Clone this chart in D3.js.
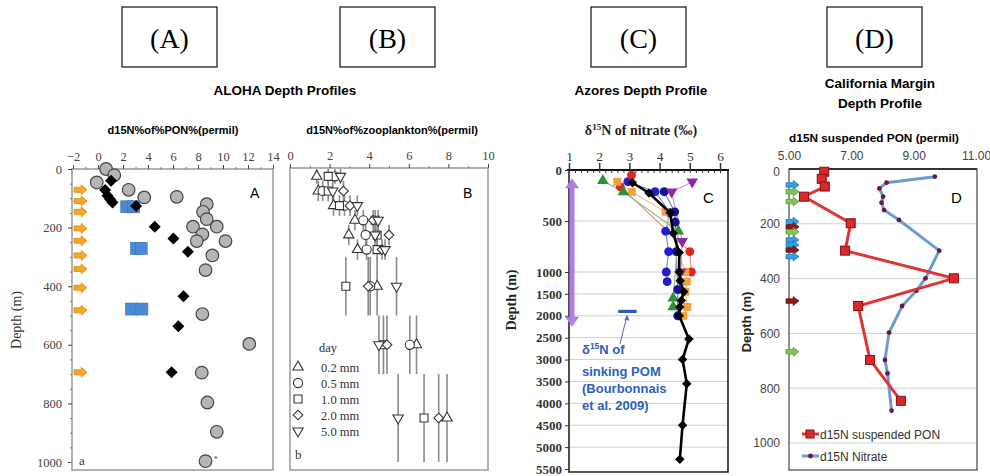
<!DOCTYPE html>
<html>
<head>
<meta charset="utf-8">
<script src="https://cdn.jsdelivr.net/npm/d3@7"></script>
<style>
body{margin:0;background:#fff}
svg{display:block}
</style>
</head>
<body>
<div id="chart"></div>
<script>
// panel A : ALOHA d15N of PON
var aPonDepth=[0,21,46,71,97,95,120,146,171,197,197,223,246,246,295,345,495,597,695,797,897,997]
var aPonVal=[0.65,1.3,-0.1,2.45,3.7,6.3,8.7,8.4,8.7,7.6,9.5,8.35,7.9,10.2,9.15,8.6,8.35,12.1,8.3,8.75,9.5,8.6]
var aDiaDepth=[40,72,91,103,114,126,197,237,282,434,537,694]
var aDiaVal=[1.05,0.57,0.76,0.97,1.16,3.05,4.54,6.03,7.19,6.84,6.43,5.89]
var aSqDepth=[129,129,271,271,478,478]
var aSqVal=[2.3,2.85,3.08,3.46,2.68,3.51]
var aArrowDepth=[71,109,146,203,245,295,341,405,482,694]
var aTicksX=[-2,0,2,4,6,8,10,12,14]
var depthTicksA=[0,200,400,600,800,1000]

// panel B : zooplankton by size class
var bDepth=[25,75,125,175,225,275,400,600,850]
var bErr=[25,35,35,35,35,35,100,100,150]
var bSizes=["0.2 mm","0.5 mm","1.0 mm","2.0 mm","5.0 mm"]
var b02=[1.35,1.43,2.2,3.28,2.97,3.41,4.4,6.39,7.93]
var b05=[2.27,1.65,2.75,3.7,3.82,3.87,4.05,6.05,null]
var b10=[1.93,1.93,2.5,4.3,4.4,4.4,2.82,4.72,6.77]
var b20=[null,2.7,3.03,4.2,5.0,4.65,3.95,4.9,7.51]
var b50=[2.55,2.16,3.4,4.45,4.3,4.8,5.38,4.49,5.46]
var bTicksX=[0,2,4,6,8,10]

// panel C : Azores nitrate
var cTicksX=[1,2,3,4,5,6]
var cTicksY=[0,500,1000,1500,2000,2500,3000,3500,4000,4500,5000,5500]
var cMeanDepth=[125,225,420,620,810,1000,1200,1450,1650,1800,2000,2530,3000,3550,4500,5280]
var cMeanVal=[3.1,3.65,4.35,4.45,4.65,4.65,4.68,4.8,4.72,4.67,4.65,4.97,4.76,4.9,4.76,4.67]
var cBlueDepth=[115,213,420,600,800,1000,1220]
var cBlueVal=[2.95,3.85,4.35,4.2,4.3,4.22,4.25]
var cNavyDepth=[213,410,510,800,1400,2000]
var cNavyVal=[4.15,4.5,4.52,4.55,4.6,4.6]
var cRedDepth=[50,165,800,1000]
var cRedVal=[3.07,2.7,5.0,5.05]
var cOrangeDepth=[115,215,410,1000,1220,1450,1800,2000]
var cOrangeVal=[2.6,3.08,4.2,4.85,4.9,4.85,4.92,4.78]
var cGreenDepth=[105,215,600,1600,1800]
var cGreenVal=[2.12,2.8,4.62,4.45,4.45]
var cPurpleDepth=[115,215,700,1000]
var cPurpleVal=[5.08,4.4,4.75,4.7]
var cPomDepth=1900
var cPomRange=[2.63,3.24]
var cMixRange=[80,2250]

// panel D : California margin
var dTicksX=[5,7,9,11]
var dTicksY=[0,200,400,600,800,1000]
var dPonDepth=[10,36,64,101,198,298,399,500,697,846]
var dPonVal=[6.13,6.05,6.15,5.48,6.98,6.8,10.29,7.22,7.6,8.59]
var dNitDepth=[28,50,71,101,123,150,186,298,399,444,500,597,697,746,882]
var dNitVal=[9.68,8.13,7.9,8.02,7.97,8.05,8.53,9.82,9.38,9.09,8.63,8.21,8.08,8.16,8.29]
var dArrowDepth=[58,83,119,192,211,229,259,277,296,320,482,667]
var dArrowKind=["blue","green","green","blue","red","green","blue","blue","red","blue","red","green"]

var SERIF='"Liberation Serif","Times New Roman",serif'
var SANS='"Liberation Sans",Arial,sans-serif'

var svg=d3.select("#chart").append("svg")
	.attr("width",990)
	.attr("height",476)

function zip(d,v){
	return d.map(function(x,i){return {d:x,v:v[i]}}).filter(function(p){return p.v!=null})
}
function blockArrow(x,y,w,h){
	var sh=h*0.5, hx=x+w*0.55
	return "M"+x+","+(y-sh/2)+"L"+hx+","+(y-sh/2)+"L"+hx+","+(y-h/2)+"L"+(x+w)+","+y+
		"L"+hx+","+(y+h/2)+"L"+hx+","+(y+sh/2)+"L"+x+","+(y+sh/2)+"Z"
}
function styleAxis(g,font,size,color,weight){
	g.select(".domain").remove()
	g.selectAll("text").style("font-family",font).style("font-size",size+"px")
		.attr("fill",color).style("font-weight",weight||"normal")
	g.selectAll("line").attr("stroke",color)
}
var fmt=d3.format("d")

// ---------- header boxes ----------
var boxes=[{l:"(A)",x:122},{l:"(B)",x:340},{l:"(C)",x:591},{l:"(D)",x:827}]
var hb=svg.selectAll(".hbox").data(boxes).enter().append("g")
hb.append("rect").attr("x",d=>d.x).attr("y",7).attr("width",95).attr("height",60)
	.attr("fill","none").attr("stroke","#111").attr("stroke-width",1.2)
hb.append("text").text(d=>d.l).attr("x",d=>d.x+47.5).attr("y",48)
	.attr("text-anchor","middle").style("font-family",SERIF).style("font-size","28px")

// ---------- panel A ----------
var xA=d3.scaleLinear().domain([-2,14]).range([73,273])
var yA=d3.scaleLinear().domain([0,1000]).range([169,462])

svg.append("text").text("ALOHA Depth Profiles").attr("x",285).attr("y",95)
	.attr("text-anchor","middle").style("font-family",SANS).style("font-size","13.5px").style("font-weight","bold")
svg.append("text").text("d15N%of%PON%(permil)").attr("x",173).attr("y",134)
	.attr("text-anchor","middle").style("font-family",SANS).style("font-size","11px").style("font-weight","bold")

svg.append("rect").attr("x",72).attr("y",169).attr("width",201).attr("height",301)
	.attr("fill","none").attr("stroke","#999").attr("stroke-width",1.5)
var gax=svg.append("g").attr("transform","translate(0,169)")
	.call(d3.axisTop(xA).tickValues(aTicksX).tickSize(4).tickPadding(4).tickFormat(fmt))
styleAxis(gax,SERIF,12.5,"#444")
var gaxm=svg.append("g").attr("transform","translate(0,169)")
	.call(d3.axisTop(xA).tickValues(d3.range(-1,14,2)).tickSize(2).tickFormat(""))
styleAxis(gaxm,SERIF,12,"#777")
var gay=svg.append("g").attr("transform","translate(72,0)")
	.call(d3.axisLeft(yA).tickValues(depthTicksA).tickSize(4).tickPadding(6).tickFormat(fmt))
styleAxis(gay,SERIF,12.5,"#444")
var gaym=svg.append("g").attr("transform","translate(72,0)")
	.call(d3.axisLeft(yA).tickValues(d3.range(50,1001,50)).tickSize(2).tickFormat(""))
styleAxis(gaym,SERIF,12,"#777")
svg.append("text").text("Depth (m)").attr("transform","translate(21,320) rotate(-90)")
	.attr("text-anchor","middle").style("font-family",SERIF).style("font-size","14px").attr("fill","#333")

svg.selectAll(".aarrow").data(aArrowDepth).enter().append("path")
	.attr("d",d=>blockArrow(74,yA(d),13,10))
	.attr("fill","#f7a823").attr("stroke","#d98a10").attr("stroke-width",0.8)

svg.selectAll(".apon").data(zip(aPonDepth,aPonVal)).enter().append("circle")
	.attr("cx",d=>xA(d.v)).attr("cy",d=>yA(d.d)).attr("r",6.3)
	.attr("fill","#b5b5b5").attr("stroke","#444").attr("stroke-width",1.2)
svg.selectAll(".asq").data(zip(aSqDepth,aSqVal)).enter().append("rect")
	.attr("x",d=>xA(d.v)-6).attr("y",d=>yA(d.d)-6).attr("width",12).attr("height",12)
	.attr("fill","#4a8ad4").attr("stroke","#3a70b0").attr("stroke-width",0.6)
svg.selectAll(".adia").data(zip(aDiaDepth,aDiaVal)).enter().append("path")
	.attr("d",d3.symbol().type(d3.symbolSquare).size(72)())
	.attr("transform",d=>"translate("+xA(d.v)+","+yA(d.d)+") rotate(45)")
	.attr("fill","#000")
svg.append("text").text("*").attr("x",xA(8.6)+8).attr("y",yA(997)+1)
	.style("font-family",SERIF).style("font-size","9px").attr("fill","#555")
svg.append("text").text("A").attr("x",250).attr("y",198)
	.style("font-family",SANS).style("font-size","14px")
svg.append("text").text("a").attr("x",79).attr("y",465)
	.style("font-family",SERIF).style("font-size","13px").attr("fill","#333")

// ---------- panel B ----------
var xB=d3.scaleLinear().domain([0,10]).range([290,488])
var yB=yA
svg.append("text").text("d15N%of%zooplankton%(permil)").attr("x",392).attr("y",134)
	.attr("text-anchor","middle").style("font-family",SANS).style("font-size","11px").style("font-weight","bold")
svg.append("rect").attr("x",290).attr("y",168).attr("width",198).attr("height",302)
	.attr("fill","none").attr("stroke","#999").attr("stroke-width",1.5)
var gbx=svg.append("g").attr("transform","translate(0,168)")
	.call(d3.axisTop(xB).tickValues(bTicksX).tickSize(4).tickPadding(4).tickFormat(fmt))
styleAxis(gbx,SERIF,12.5,"#444")
var gbxm=svg.append("g").attr("transform","translate(0,168)")
	.call(d3.axisTop(xB).tickValues(d3.range(1,10,2)).tickSize(2).tickFormat(""))
styleAxis(gbxm,SERIF,12,"#777")

var bSymbols=[
	{type:d3.symbolTriangle,size:46,rot:0,vals:b02},
	{type:d3.symbolCircle,size:66,rot:0,vals:b05},
	{type:d3.symbolSquare,size:64,rot:0,vals:b10},
	{type:d3.symbolSquare,size:46,rot:45,vals:b20},
	{type:d3.symbolTriangle,size:46,rot:180,vals:b50}
]
var bPts=[]
bSymbols.forEach(function(s){
	s.vals.forEach(function(v,i){
		if(v!=null) bPts.push({v:v,d:bDepth[i],e:bErr[i],s:s})
	})
})
svg.selectAll(".berr").data(bPts).enter().append("line")
	.attr("x1",d=>xB(d.v)).attr("x2",d=>xB(d.v))
	.attr("y1",d=>yB(d.d-d.e)).attr("y2",d=>yB(d.d+d.e))
	.attr("stroke","#8a8a8a").attr("stroke-width",1.6)
svg.selectAll(".bpt").data(bPts).enter().append("path")
	.attr("d",d=>d3.symbol().type(d.s.type).size(d.s.size)())
	.attr("transform",d=>"translate("+xB(d.v)+","+yB(d.d)+") rotate("+d.s.rot+")")
	.attr("fill","#fff").attr("stroke","#333").attr("stroke-width",1.1)

svg.append("text").text("B").attr("x",463).attr("y",198)
	.style("font-family",SANS).style("font-size","14px")
svg.append("text").text("day").attr("x",319).attr("y",352)
	.style("font-family",SERIF).style("font-size","12.5px").attr("fill","#333")
var bleg=svg.selectAll(".bleg").data(bSymbols).enter().append("g")
	.attr("transform",(d,i)=>"translate(298,"+(367+i*16)+")")
bleg.append("path").attr("d",d=>d3.symbol().type(d.type).size(d.size)())
	.attr("transform",d=>"rotate("+d.rot+")")
	.attr("fill","#fff").attr("stroke","#333").attr("stroke-width",1.1)
bleg.append("text").text((d,i)=>bSizes[i]).attr("x",23).attr("y",4.5)
	.style("font-family",SERIF).style("font-size","12.5px").attr("fill","#333")
svg.append("text").text("b").attr("x",295).attr("y",459)
	.style("font-family",SERIF).style("font-size","13px").attr("fill","#333")

// ---------- panel C ----------
var xC=d3.scaleLinear().domain([1,6]).range([569,720])
var yC=d3.scaleLinear().domain([0,1000,5500]).range([170,272,469])

svg.append("text").text("Azores Depth Profile").attr("x",641).attr("y",95)
	.attr("text-anchor","middle").style("font-family",SANS).style("font-size","13.5px").style("font-weight","bold")
var ct=svg.append("text").attr("x",641).attr("y",135).attr("text-anchor","middle")
	.style("font-family",SERIF).style("font-size","14px").style("font-weight","bold").attr("fill","#222")
ct.append("tspan").text("δ")
ct.append("tspan").text("15").attr("dy",-5).style("font-size","9px")
ct.append("tspan").text("N of nitrate (‰)").attr("dy",5)

svg.selectAll(".cgrid").data(cTicksY.filter(d=>d>0&&d<5500)).enter().append("line")
	.attr("x1",569).attr("x2",728).attr("y1",d=>yC(d)).attr("y2",d=>yC(d))
	.attr("stroke","#cfcfcf").attr("stroke-width",1)
svg.append("path").attr("d","M569,170L569,472L728,472L728,170")
	.attr("fill","none").attr("stroke","#222").attr("stroke-width",1.6)
svg.append("line").attr("x1",567).attr("x2",729).attr("y1",170).attr("y2",170)
	.attr("stroke","#111").attr("stroke-width",2.2)
var gcx=svg.append("g").attr("transform","translate(0,170)")
	.call(d3.axisTop(xC).tickValues(cTicksX).tickSize(7).tickPadding(2).tickFormat(fmt))
styleAxis(gcx,SERIF,13.5,"#333")
gcx.selectAll("line").attr("stroke-width",1.5)
var gcxm=svg.append("g").attr("transform","translate(0,170)")
	.call(d3.axisBottom(xC).tickValues(d3.range(1.2,6.2,0.2)).tickSize(3).tickFormat(""))
styleAxis(gcxm,SERIF,12,"#333")
var gcy=svg.append("g").attr("transform","translate(569,0)")
	.call(d3.axisLeft(yC).tickValues(cTicksY).tickSize(4).tickPadding(3).tickFormat(fmt))
styleAxis(gcy,SERIF,13,"#333","bold")
svg.append("text").text("Depth  (m)").attr("transform","translate(516,300) rotate(-90)")
	.attr("text-anchor","middle").style("font-family",SERIF).style("font-size","14px")
	.style("font-weight","bold").attr("fill","#222")

// mixed layer arrow
var mx=xC(1.1), my0=yC(cMixRange[0]), my1=yC(cMixRange[1])
svg.append("rect").attr("x",mx-2.5).attr("y",my0+8).attr("width",5).attr("height",my1-my0-16)
	.attr("fill","#b07ee0")
svg.append("path").attr("d","M"+mx+","+my0+"L"+(mx+7)+","+(my0+10)+"L"+(mx-7)+","+(my0+10)+"Z").attr("fill","#b07ee0")
svg.append("path").attr("d","M"+mx+","+my1+"L"+(mx+7)+","+(my1-10)+"L"+(mx-7)+","+(my1-10)+"Z").attr("fill","#b07ee0")

var line=d3.line().x(d=>xC(d.v)).y(d=>yC(d.d))
var cSeries=[
	{pts:zip(cBlueDepth,cBlueVal),line:"#7d7de6",fill:"#1f1fd0",shape:"circle"},
	{pts:zip(cNavyDepth,cNavyVal),line:"#6a6ad0",fill:"#12129a",shape:"circle"},
	{pts:zip(cRedDepth,cRedVal),line:"#e88080",fill:"#e02525",shape:"circle"},
	{pts:zip(cOrangeDepth,cOrangeVal),line:"#f0c080",fill:"#f2a040",shape:"square"},
	{pts:zip(cGreenDepth,cGreenVal),line:"#88c088",fill:"#2e8f3a",shape:"tri"},
	{pts:zip(cPurpleDepth,cPurpleVal),line:"#c090d0",fill:"#8a2aa8",shape:"inv"}
]
cSeries.forEach(function(s){
	svg.append("path").datum(s.pts).attr("d",line)
		.attr("fill","none").attr("stroke",s.line).attr("stroke-width",1.1)
})
cSeries.forEach(function(s){
	var sym=s.shape=="circle"?d3.symbolCircle:s.shape=="square"?d3.symbolSquare:d3.symbolTriangle
	svg.selectAll(null).data(s.pts).enter().append("path")
		.attr("d",d3.symbol().type(sym).size(s.shape=="circle"?62:s.shape=="square"?64:58)())
		.attr("transform",d=>"translate("+xC(d.v)+","+yC(d.d)+")"+(s.shape=="inv"?" rotate(180)":""))
		.attr("fill",s.fill)
})
var meanPts=zip(cMeanDepth,cMeanVal)
svg.append("path").datum(meanPts).attr("d",line)
	.attr("fill","none").attr("stroke","#000").attr("stroke-width",2.6)
svg.selectAll(".cmean").data(meanPts).enter().append("path")
	.attr("d",d3.symbol().type(d3.symbolSquare).size(45)())
	.attr("transform",d=>"translate("+xC(d.v)+","+yC(d.d)+") rotate(45)")
	.attr("fill","#000")
svg.append("text").text("C").attr("x",703).attr("y",203)
	.style("font-family",SANS).style("font-size","15px")

// sinking POM annotation
var pomY=yC(cPomDepth)
svg.append("line").attr("x1",xC(cPomRange[0])).attr("x2",xC(cPomRange[1])).attr("y1",pomY).attr("y2",pomY)
	.attr("stroke","#2a5cc0").attr("stroke-width",3.2)
svg.append("line").attr("x1",620).attr("y1",344).attr("x2",626.5).attr("y2",pomY+6)
	.attr("stroke","#4a6fb0").attr("stroke-width",1)
svg.append("path").attr("d","M627,"+(pomY+3)+"L629.5,"+(pomY+9)+"L624.5,"+(pomY+8.5)+"Z").attr("fill","#4a6fb0")
var pt=svg.append("g").style("font-family",SANS).style("font-size","13px")
	.style("font-weight","bold").attr("fill","#2e5fbd")
var t1=pt.append("text").attr("x",582).attr("y",354)
t1.append("tspan").text("δ")
t1.append("tspan").text("15").attr("dy",-5).style("font-size","8.5px")
t1.append("tspan").text("N of").attr("dy",5)
pt.append("text").text("sinking POM").attr("x",582).attr("y",376)
pt.append("text").text("(Bourbonnais").attr("x",582).attr("y",393)
pt.append("text").text("et al. 2009)").attr("x",582).attr("y",410)

// ---------- panel D ----------
var xD=d3.scaleLinear().domain([5,11]).range([789,976])
var yD=d3.scaleLinear().domain([0,1000]).range([169,443])

svg.append("text").text("California Margin").attr("x",880).attr("y",88)
	.attr("text-anchor","middle").style("font-family",SANS).style("font-size","13.5px").style("font-weight","bold")
svg.append("text").text("Depth Profile").attr("x",880).attr("y",108)
	.attr("text-anchor","middle").style("font-family",SANS).style("font-size","13.5px").style("font-weight","bold")
svg.append("text").text("d15N suspended PON (permil)").attr("x",874).attr("y",142)
	.attr("text-anchor","middle").style("font-family",SANS).style("font-size","11.8px").style("font-weight","bold")

svg.selectAll(".dgrid").data(dTicksY.filter(d=>d>0)).enter().append("line")
	.attr("x1",789).attr("x2",977).attr("y1",d=>yD(d)).attr("y2",d=>yD(d))
	.attr("stroke","#cfcfcf")
svg.append("rect").attr("x",789).attr("y",169).attr("width",188).attr("height",301)
	.attr("fill","none").attr("stroke","#555").attr("stroke-width",1.3)
svg.append("line").attr("x1",789).attr("x2",977).attr("y1",169).attr("y2",169)
	.attr("stroke","#333").attr("stroke-width",1.8)
var gdx=svg.append("g").attr("transform","translate(0,169)")
	.call(d3.axisTop(xD).tickValues(dTicksX).tickSize(0).tickPadding(9).tickFormat(d3.format(".2f")))
styleAxis(gdx,SANS,12,"#444")
var gdy=svg.append("g").attr("transform","translate(789,0)")
	.call(d3.axisLeft(yD).tickValues(dTicksY).tickSize(0).tickPadding(9).tickFormat(fmt))
styleAxis(gdy,SANS,12,"#444")
gdy.selectAll(".tick").filter(d=>d==0).select("text").attr("dy","0.55em")
svg.append("text").text("Depth (m)").attr("transform","translate(751,322) rotate(-90)")
	.attr("text-anchor","middle").style("font-family",SANS).style("font-size","13px")
	.style("font-weight","bold").attr("fill","#222")

var arrowCol={blue:["#33a0e6","#1d72b8"],green:["#7ec850","#4f9a2c"],red:["#8c1b1b","#5a0b0b"]}
svg.selectAll(".darrow").data(dArrowDepth).enter().append("path")
	.attr("d",d=>blockArrow(786,yD(d),13,9))
	.attr("fill",(d,i)=>arrowCol[dArrowKind[i]][0])
	.attr("stroke",(d,i)=>arrowCol[dArrowKind[i]][1]).attr("stroke-width",0.7)

var lineD=d3.line().x(d=>xD(d.v)).y(d=>yD(d.d))
var nit=zip(dNitDepth,dNitVal), pon=zip(dPonDepth,dPonVal)
svg.append("path").datum(nit).attr("d",lineD)
	.attr("fill","none").attr("stroke","#6a9bd6").attr("stroke-width",3)
svg.selectAll(".dnit").data(nit).enter().append("circle")
	.attr("cx",d=>xD(d.v)).attr("cy",d=>yD(d.d)).attr("r",2.4).attr("fill","#6a1a3a")
svg.append("path").datum(pon).attr("d",lineD)
	.attr("fill","none").attr("stroke","#e03434").attr("stroke-width",3)
svg.selectAll(".dpon").data(pon).enter().append("rect")
	.attr("x",d=>xD(d.v)-4.5).attr("y",d=>yD(d.d)-4.5).attr("width",9).attr("height",9)
	.attr("fill","#d82a2a").attr("stroke","#8a0d0d").attr("stroke-width",1)
svg.append("text").text("D").attr("x",951).attr("y",203)
	.style("font-family",SANS).style("font-size","15px")

var dleg=[{l:"d15N suspended PON",c:"#e03434",m:"sq"},{l:"d15N Nitrate",c:"#6a9bd6",m:"dot"}]
var dl=svg.selectAll(".dleg").data(dleg).enter().append("g")
	.attr("transform",(d,i)=>"translate(802,"+(434+i*22)+")")
dl.append("line").attr("x1",0).attr("x2",17).attr("stroke",d=>d.c).attr("stroke-width",3)
dl.filter(d=>d.m=="sq").append("rect").attr("x",4).attr("y",-4).attr("width",8).attr("height",8)
	.attr("fill","#d82a2a").attr("stroke","#8a0d0d")
dl.filter(d=>d.m=="dot").append("circle").attr("cx",8.5).attr("r",2.4).attr("fill","#6a1a3a")
dl.append("text").text(d=>d.l).attr("x",18).attr("y",4.5)
	.style("font-family",SANS).style("font-size","12px").attr("fill","#333")
</script>
</body>
</html>
